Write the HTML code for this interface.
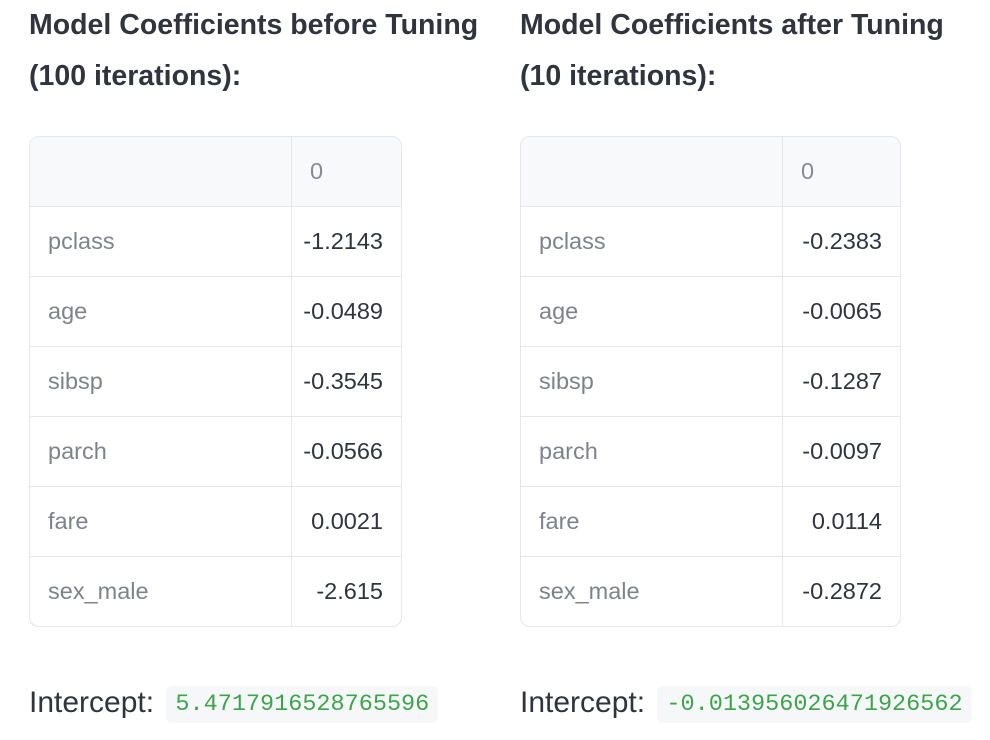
<!DOCTYPE html>
<html><head><meta charset="utf-8"><style>
body{margin:0;width:990px;height:740px;background:#fff;font-family:"Liberation Sans",sans-serif;color:#31333f;position:relative;overflow:hidden}
.t{position:absolute;font-weight:bold;font-size:28.5px;line-height:51px;margin:0;white-space:nowrap}
table{position:absolute;border-collapse:separate;border-spacing:0;border:1px solid #e6e6ea;border-radius:10px;overflow:hidden;font-size:23.5px}
td,th{height:69px;border-bottom:1px solid #e6e6ea;padding:0 18px;font-weight:normal}
tr:last-child td{border-bottom:none}
th{background:#f8f9fb;color:#888a93;text-align:left}
td.k{color:#80828b}
td.v{text-align:right;border-left:1px solid #e6e6ea;padding:0 18px 0 6px}
th.v{border-left:1px solid #e6e6ea}
.i{position:absolute;font-size:30px;top:684px;line-height:38px;white-space:nowrap}
.c{font-family:"Liberation Mono",monospace;font-size:23.5px;color:#3ea44c;background:#f6f7f9;border-radius:6px;padding:5px 9px;margin-left:4px;vertical-align:2px}
</style></head><body>
<h2 class="t" style="left:29px;top:0">Model Coefficients before Tuning<br>(100 iterations):</h2>
<h2 class="t" style="left:520px;top:0">Model Coefficients after Tuning<br>(10 iterations):</h2>
<table style="left:29px;top:136px;width:373px">
<tr><th style="width:225px"></th><th class="v">0</th></tr>
<tr><td class="k">pclass</td><td class="v">-1.2143</td></tr>
<tr><td class="k">age</td><td class="v">-0.0489</td></tr>
<tr><td class="k">sibsp</td><td class="v">-0.3545</td></tr>
<tr><td class="k">parch</td><td class="v">-0.0566</td></tr>
<tr><td class="k">fare</td><td class="v">0.0021</td></tr>
<tr><td class="k">sex_male</td><td class="v">-2.615</td></tr>
</table>
<table style="left:520px;top:136px;width:381px">
<tr><th style="width:225px"></th><th class="v">0</th></tr>
<tr><td class="k">pclass</td><td class="v">-0.2383</td></tr>
<tr><td class="k">age</td><td class="v">-0.0065</td></tr>
<tr><td class="k">sibsp</td><td class="v">-0.1287</td></tr>
<tr><td class="k">parch</td><td class="v">-0.0097</td></tr>
<tr><td class="k">fare</td><td class="v">0.0114</td></tr>
<tr><td class="k">sex_male</td><td class="v">-0.2872</td></tr>
</table>
<div class="i" style="left:29px">Intercept: <span class="c">5.4717916528765596</span></div>
<div class="i" style="left:520px">Intercept: <span class="c">-0.013956026471926562</span></div>
</body></html>
